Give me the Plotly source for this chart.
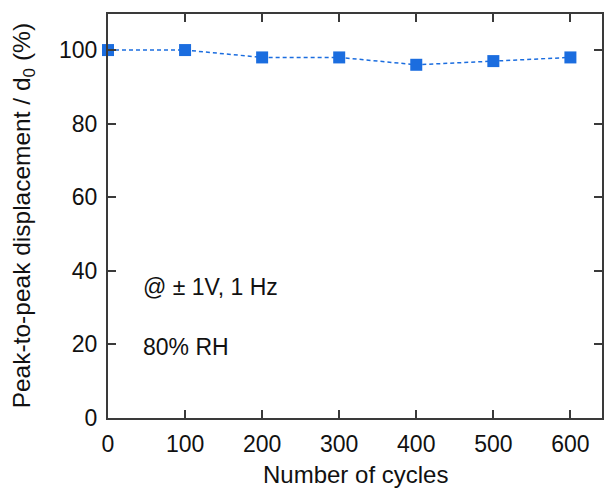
import plotly.graph_objects as go

# Cycling stability data
cycles = [0, 100, 200, 300, 400, 500, 600]
displacement_pct = [100, 100, 98, 98, 96, 97, 98]
x_ticks = [0, 100, 200, 300, 400, 500, 600]
y_ticks = [0, 20, 40, 60, 80, 100]

BLUE = "#1b6ddf"
AXIS = "#3a3a3a"
FONT = "Liberation Sans, Arial, sans-serif"

fig = go.Figure()
fig.add_trace(go.Scatter(
    x=cycles, y=displacement_pct,
    mode="lines+markers",
    line=dict(color=BLUE, width=1.5, dash="4px,3px"),
    marker=dict(symbol="square", size=12, color=BLUE, line=dict(width=0)),
    cliponaxis=False,
    showlegend=False,
))

axis_common = dict(
    showline=True, linecolor=AXIS, linewidth=2, mirror="ticks",
    ticks="inside", ticklen=8, tickwidth=1.5, tickcolor=AXIS,
    showgrid=False, zeroline=False,
    tickfont=dict(family=FONT, size=23, color="#111"),
)

fig.update_xaxes(range=[0, 641], tickvals=x_ticks, ticklabelstandoff=4, **axis_common)
fig.update_yaxes(range=[0, 109.8], tickvals=y_ticks, ticklabelstandoff=4, **axis_common)

fig.add_annotation(text="Number of cycles", xref="paper", yref="paper",
                   x=(356 - 108) / 496, y=-(475 - 418) / 404,
                   xanchor="center", yanchor="middle", showarrow=False,
                   font=dict(family=FONT, size=24, color="#111"))
fig.add_annotation(text="Peak-to-peak displacement / d<sub>0</sub> (%)", textangle=-90,
                   xref="paper", yref="paper", x=-(108 - 23) / 496, y=0.5,
                   xanchor="center", yanchor="middle",
                   showarrow=False, font=dict(family=FONT, size=24.5, color="#111"))
fig.add_annotation(text="@ ± 1V, 1 Hz", xref="paper", yref="paper",
                   x=(141 - 108) / 496, y=(418 - 287) / 404,
                   xanchor="left", yanchor="middle",
                   showarrow=False, font=dict(family=FONT, size=23, color="#111"))
fig.add_annotation(text="80% RH", xref="paper", yref="paper",
                   x=(141 - 108) / 496, y=(418 - 347) / 404,
                   xanchor="left", yanchor="middle",
                   showarrow=False, font=dict(family=FONT, size=23, color="#111"))

fig.update_layout(
    width=604, height=489,
    margin=dict(l=108, r=0, t=14, b=71),
    paper_bgcolor="white", plot_bgcolor="white",
)

fig.write_html("out.html")
